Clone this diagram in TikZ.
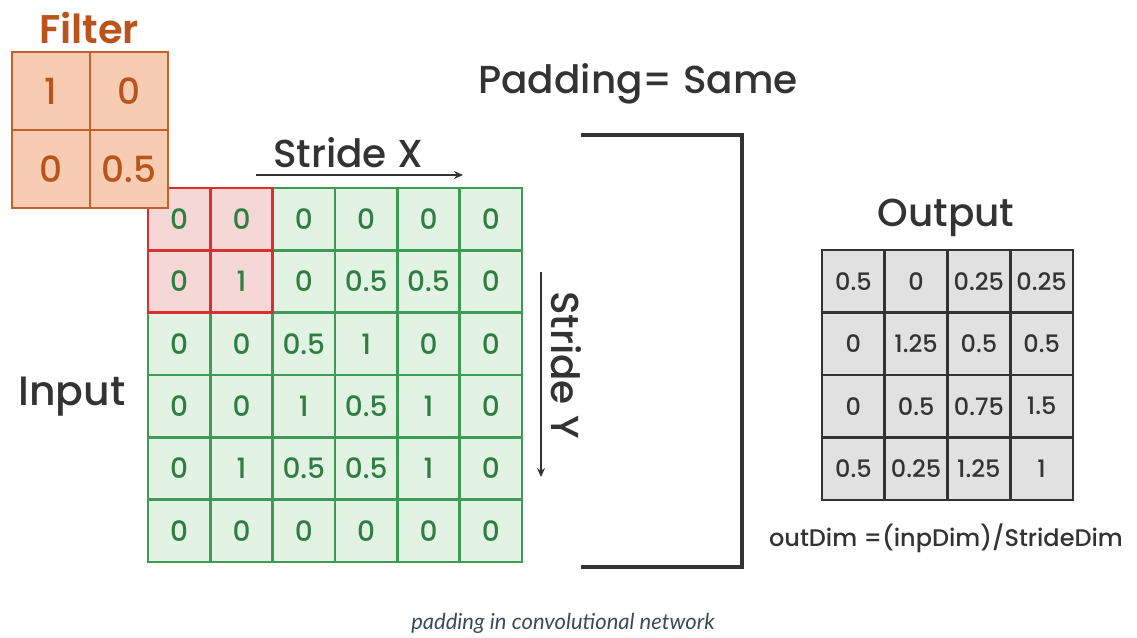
\documentclass[tikz,border=0pt]{standalone}
\usepackage{fontspec}
\setmainfont{Poppins Medium}[BoldFont={Poppins SemiBold}]
\newfontfamily\capfont{Lato}
\usetikzlibrary{arrows.meta}
\definecolor{fFill}{HTML}{F8CBB3}
\definecolor{fDraw}{HTML}{C46128}
\definecolor{fText}{HTML}{B8541C}
\definecolor{iFill}{HTML}{E2F3E3}
\definecolor{iDraw}{HTML}{3E9B55}
\definecolor{iText}{HTML}{2F7D43}
\definecolor{rFill}{HTML}{F5D8D6}
\definecolor{rDraw}{HTML}{D8302E}
\definecolor{oFill}{HTML}{E1E1E1}
\definecolor{dark}{HTML}{333333}
\definecolor{capc}{HTML}{3A4A5C}
\tikzset{
  incell/.style={draw=iDraw, fill=iFill, line width=2.6pt, minimum size=62.3pt, inner sep=0pt, text=iText, font=\fontsize{28}{32}\selectfont},
  redcell/.style={draw=rDraw, fill=rFill, line width=2.6pt, minimum size=62.3pt, inner sep=0pt, text=iText, font=\fontsize{28}{32}\selectfont},
  fcell/.style={draw=fDraw, fill=fFill, line width=2.8pt, minimum size=78pt, inner sep=0pt, text=fText, font=\fontsize{36}{40}\selectfont},
  ocell/.style={draw=dark, fill=oFill, line width=2.6pt, minimum size=62.5pt, inner sep=0pt, text=dark, font=\fontsize{24}{28}\selectfont},
  title/.style={text=dark, font=\fontsize{39}{46}\selectfont},
  stride/.style={text=dark, font=\fontsize{39}{46}\selectfont},
  sarrow/.style={draw=dark, line width=1.6pt, -{Stealth[length=9pt,width=8pt]}},
  bracket/.style={draw=dark, line width=4.5pt}
}
\begin{document}
\begin{tikzpicture}[x=1pt,y=-1pt]
\useasboundingbox (0,0) rectangle (1137,637);
% input grid
\foreach \r/\row in {1/{0,0,0,0,0,0},2/{0,1,0,0.5,0.5,0},3/{0,0,0.5,1,0,0},4/{0,0,1,0.5,1,0},5/{0,1,0.5,0.5,1,0},6/{0,0,0,0,0,0}}{
  \foreach \v [count=\c] in \row {
    \node[incell] (in-\r-\c) at ({148+62.33*(\c-0.5)},{188+62.33*(\r-0.5)}) {\v};
  }
}
% red window
\node[redcell] (rw-1-1) at (in-1-1) {0};
\node[redcell] (rw-1-2) at (in-1-2) {0};
\node[redcell] (rw-2-1) at (in-2-1) {0};
\node[redcell] (rw-2-2) at (in-2-2) {1};
% filter
\node[fcell] (f-1-1) at (51,91) {1};
\node[fcell] (f-1-2) at (129,91) {0};
\node[fcell] (f-2-1) at (51,169) {0};
\node[fcell] (f-2-2) at (129,169) {0.5};
\node[text=fText, font=\fontsize{40}{46}\selectfont\bfseries] (ftitle) at (89,28) {Filter};
% labels
\node[title, font=\fontsize{41}{48}\selectfont] (inlabel) at (72,397) {Input};
\node[title] (padlabel) at (638,84) {Padding= Same};
\node[stride] (sx) at (348,153) {Stride X};
\coordinate (sxa) at (256,175);
\coordinate (sxb) at (463,175);
\draw[sarrow] (sxa) -- (sxb);
\node[stride, rotate=-90] (sy) at (566,365) {Stride Y};
\coordinate (sya) at (541,272);
\coordinate (syb) at (541,477);
\draw[sarrow] (sya) -- (syb);
% bracket
\coordinate (b1) at (581,135);
\coordinate (b2) at (742,135);
\coordinate (b3) at (742,567);
\coordinate (b4) at (581,567);
\draw[bracket] (b1) -- (b2) -- (b3) -- (b4);
% output
\node[title] (outlabel) at (946,218) {Output};
\foreach \r/\row in {1/{0.5,0,0.25,0.25},2/{0,1.25,0.5,0.5},3/{0,0.5,0.75,1.5},4/{0.5,0.25,1.25,1}}{
  \foreach \v [count=\c] in \row {
    \node[ocell] (out-\r-\c) at ({822+62.75*(\c-0.5)},{250+62.5*(\r-0.5)}) {\v};
  }
}
\node[text=dark, font=\fontsize{24}{28}\selectfont] (formula) at (946,538) {outDim =(inpDim)/StrideDim};
\node[text=capc, font=\capfont\itshape\fontsize{22}{26}\selectfont] (caption) at (563,623) {padding in convolutional network};
\end{tikzpicture}
\end{document}
